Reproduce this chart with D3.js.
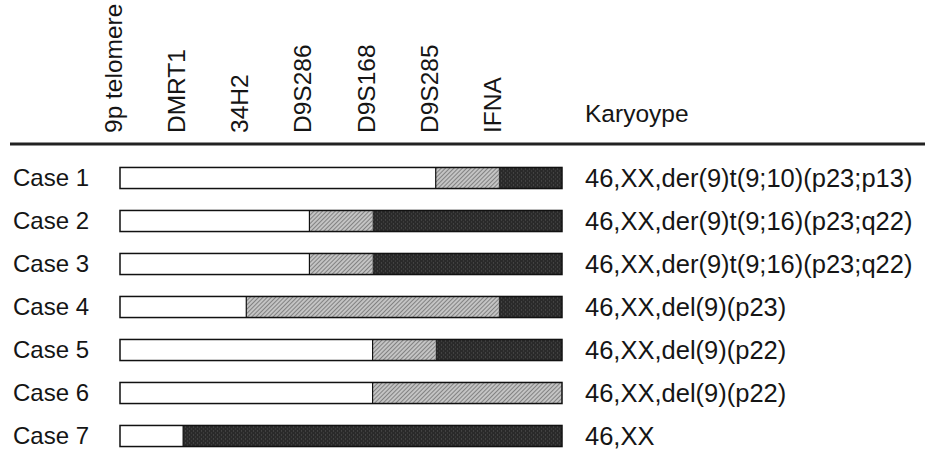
<!DOCTYPE html>
<html><head><meta charset="utf-8">
<script src="https://cdn.jsdelivr.net/npm/d3@7"></script>
<style>html,body{margin:0;padding:0;background:#fff;}svg{display:block;}</style>
</head><body><div id="chart"></div>
<script>
const markers = ["9p telomere","DMRT1","34H2","D9S286","D9S168","D9S285","IFNA"];
const cases = ["Case 1","Case 2","Case 3","Case 4","Case 5","Case 6","Case 7"];
// segment ends, in marker-interval units (0 = 9p telomere, 7 = bar end)
const whiteEnd = [5,3,3,2,4,4,1];
const grayEnd  = [6,4,4,6,5,7,1];
const barEnd = 7;
const karyotypes = [
  "46,XX,der(9)t(9;10)(p23;p13)",
  "46,XX,der(9)t(9;16)(p23;q22)",
  "46,XX,der(9)t(9;16)(p23;q22)",
  "46,XX,del(9)(p23)",
  "46,XX,del(9)(p22)",
  "46,XX,del(9)(p22)",
  "46,XX"
];
const headerRight = "Karyoype";

const W = 925, H = 449;
const FONT = "'Liberation Sans', Arial, Helvetica, sans-serif";
const svg = d3.select("#chart").append("svg").attr("width", W).attr("height", H);

const defs = svg.append("defs");
const hp = defs.append("pattern").attr("id","hatch").attr("patternUnits","userSpaceOnUse")
  .attr("width",3).attr("height",3).attr("patternTransform","rotate(45)");
hp.append("rect").attr("width",3).attr("height",3).attr("fill","#c4c4c4");
hp.append("line").attr("x1",0).attr("y1",0).attr("x2",0).attr("y2",3).attr("stroke","#666").attr("stroke-width",1.4);
const dp = defs.append("pattern").attr("id","dark").attr("patternUnits","userSpaceOnUse")
  .attr("width",4).attr("height",4);
dp.append("rect").attr("width",4).attr("height",4).attr("fill","#2a2a2a");
dp.append("rect").attr("x",1).attr("y",1).attr("width",1).attr("height",1).attr("fill","#5a5a5a");
dp.append("rect").attr("x",3).attr("y",3).attr("width",1).attr("height",1).attr("fill","#4a4a4a");

const x = d3.scaleLinear().domain([0, barEnd]).range([120, 562]);
const y = d3.scaleBand().domain(cases).range([156.5, 457.5]).paddingInner(0.51).paddingOuter(0.255);

// header labels
svg.append("g").selectAll("text").data(markers).join("text")
  .attr("transform", (d,i) => `translate(${x(i)+2},133) rotate(-90)`)
  .attr("font-family", FONT).attr("font-size", 24.5).attr("fill","#151515")
  .text(d => d);

svg.append("text").attr("x",585).attr("y",122)
  .attr("font-family", FONT).attr("font-size", 24.5).attr("fill","#151515").text(headerRight);

// rule
svg.append("line").attr("x1",10).attr("x2",W).attr("y1",144).attr("y2",144)
  .attr("stroke","#222").attr("stroke-width",3);

// rows
const rows = svg.append("g").selectAll("g").data(cases).join("g")
  .attr("transform", d => `translate(0,${y(d)})`);
const bh = y.bandwidth();

rows.append("text").attr("x",13).attr("y", bh/2 + 8)
  .attr("font-family", FONT).attr("font-size", 24).attr("fill","#151515").text(d => d);

rows.append("rect").attr("x", x(0)).attr("y",0).attr("height",bh)
  .attr("width", (d,i) => x(whiteEnd[i]) - x(0)).attr("fill","#fff");
rows.append("rect").attr("x", (d,i) => x(whiteEnd[i])).attr("y",0).attr("height",bh)
  .attr("width", (d,i) => x(grayEnd[i]) - x(whiteEnd[i])).attr("fill","url(#hatch)");
rows.append("rect").attr("x", (d,i) => x(grayEnd[i])).attr("y",0).attr("height",bh)
  .attr("width", (d,i) => x(barEnd) - x(grayEnd[i])).attr("fill","url(#dark)");
rows.append("rect").attr("x", x(0)).attr("y",0).attr("height",bh)
  .attr("width", x(barEnd) - x(0)).attr("fill","none").attr("stroke","#111").attr("stroke-width",1.5);
rows.append("line").attr("x1",(d,i)=>x(whiteEnd[i])).attr("x2",(d,i)=>x(whiteEnd[i]))
  .attr("y1",0).attr("y2",bh).attr("stroke","#111").attr("stroke-width",1.2);

rows.append("text").attr("x",585).attr("y", bh/2 + 8.5)
  .attr("font-family", FONT).attr("font-size", 25.5).attr("fill","#151515")
  .text((d,i) => karyotypes[i]);
</script></body></html>
